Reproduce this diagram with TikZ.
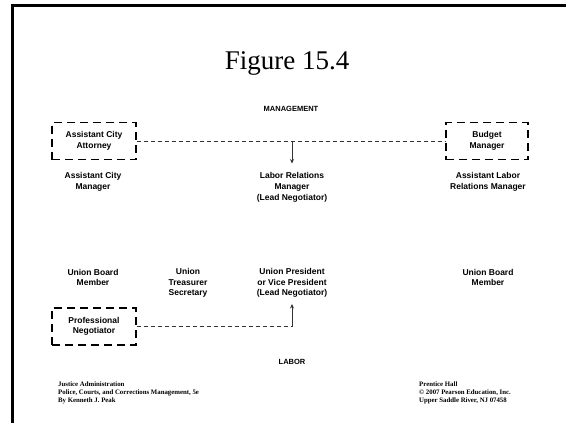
\documentclass[tikz,border=0pt]{standalone}
\usepackage{fontspec}
\setmainfont{Liberation Serif}
\setsansfont{Liberation Sans}
\usetikzlibrary{arrows.meta}
\tikzset{
  roleboxed/.style={draw, line width=1.3pt, dash pattern=on 8pt off 5pt,
    minimum width=84pt, minimum height=37pt, inner sep=0pt, align=center,
    font=\sffamily\bfseries\fontsize{8.5}{10.5}\selectfont},
  rolelabel/.style={inner sep=0pt, align=center,
    font=\sffamily\bfseries\fontsize{8.5}{10.8}\selectfont},
  heading/.style={inner sep=0pt, font=\sffamily\bfseries\fontsize{7.5}{9}\selectfont},
  footnote/.style={inner sep=0pt, align=left, anchor=north west,
    font=\rmfamily\bfseries\fontsize{6.8}{7.6}\selectfont},
  link/.style={line width=0.8pt, black!80, dash pattern=on 4pt off 3pt},
  tiparrow/.style={line width=0.8pt, black!80, -{Stealth[length=4.5pt,width=4pt]}}
}
\begin{document}
\begin{tikzpicture}[x=1pt,y=-1pt]
\useasboundingbox (0,0) rectangle (566,423);
\fill[white] (0,0) rectangle (566,423);

% slide frame: left and top rules only
\draw[line width=3pt] (12.5,423) -- (12.5,5) -- (566,5);

% title
\node[inner sep=0pt, font=\rmfamily\fontsize{27}{29}\selectfont] (title) at (287,63) {Figure 15.4};

% management side
\node[heading] (mgmt) at (291,109) {MANAGEMENT};
\node[roleboxed] (att) at (94,141) {Assistant City\\Attorney};
\node[roleboxed, minimum width=82pt] (bud) at (487,141) {Budget\\Manager};
\node[rolelabel] (acm) at (93,182) {Assistant City\\Manager};
\node[rolelabel] (lrm) at (292,187.5) {Labor Relations\\Manager\\(Lead Negotiator)};
\node[rolelabel] (alrm) at (488,182) {Assistant Labor\\Relations Manager};

\draw[link] (att.east) -- (bud.west);
\coordinate (jm) at (lrm.north |- att.east);
\draw[tiparrow] (jm) -- ([yshift=9pt]lrm.north);

% labor side
\node[rolelabel] (ubl) at (93,277.5) {Union Board\\Member};
\node[rolelabel] (uts) at (188,283) {Union\\Treasurer\\Secretary};
\node[rolelabel] (upr) at (292,283) {Union President\\or Vice President\\(Lead Negotiator)};
\node[rolelabel] (ubr) at (488,277.5) {Union Board\\Member};
\node[roleboxed] (prof) at (94,326.5) {Professional\\Negotiator};
\node[heading] (labor) at (292,362) {LABOR};

\coordinate (jl) at (upr.south |- prof.east);
\draw[link] (prof.east) -- (jl);
\draw[tiparrow] (jl) -- ([yshift=-6pt]upr.south);

% source notes
\node[footnote] (src) at (58,382) {Justice Administration\\Police, Courts, and Corrections Management, 5e\\By Kenneth J. Peak};
\node[footnote] (pub) at (419,382) {Prentice Hall\\\textcopyright\ 2007 Pearson Education, Inc.\\Upper Saddle River, NJ 07458};
\end{tikzpicture}
\end{document}
